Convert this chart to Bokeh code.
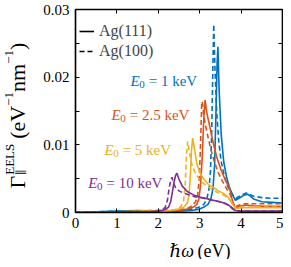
from math import pi
from bokeh.plotting import figure
from bokeh.layouts import row, column
from bokeh.models import (Range1d, LinearAxis, FixedTicker, Label, Legend,
                          LegendItem, CustomJSTickFormatter)
from bokeh.embed import file_html
from bokeh.resources import INLINE

# ---------------- data ----------------
# E0 = 1 keV
x_111_1 = [0, 0.5, 1.0, 1.5, 2.0, 2.5, 2.8, 3.0, 3.1, 3.2, 3.27, 3.32, 3.36, 3.39, 3.42, 3.44,
           3.47, 3.52, 3.58, 3.65, 3.72, 3.79, 3.86, 3.95, 4.05, 4.16, 4.3, 4.5, 4.75, 5.0]
y_111_1 = [0, 0.0001, 0.0002, 0.0003, 0.0002, 0.0002, 0.0003, 0.0005, 0.0008, 0.0012, 0.002,
           0.0035, 0.007, 0.014, 0.022, 0.0245, 0.018, 0.0115, 0.0075, 0.0052, 0.0037, 0.0027,
           0.0018, 0.0021, 0.0025, 0.0027, 0.002, 0.0016, 0.0015, 0.0014]
x_100_1 = [0, 1.0, 2.0, 2.5, 2.8, 3.0, 3.1, 3.17, 3.22, 3.26, 3.29, 3.32, 3.34, 3.37, 3.41, 3.46,
           3.52, 3.6, 3.68, 3.76, 3.82, 3.88, 3.98, 4.13, 4.3, 4.5, 4.75, 5.0]
y_100_1 = [0, 0.0002, 0.0003, 0.0003, 0.0005, 0.0008, 0.0012, 0.002, 0.0033, 0.006, 0.012, 0.022,
           0.0278, 0.021, 0.015, 0.0105, 0.0075, 0.0052, 0.0038, 0.0029, 0.0024, 0.0021, 0.0025,
           0.0029, 0.0024, 0.0022, 0.0021, 0.0021]
# E0 = 2.5 keV
x_111_25 = [0, 1, 2, 2.5, 2.7, 2.85, 2.93, 2.98, 3.02, 3.06, 3.1, 3.13, 3.17, 3.25, 3.33, 3.42,
            3.52, 3.62, 3.72, 3.8, 3.86, 3.95, 4.1, 4.3, 4.6, 5.0]
y_111_25 = [0, 0.0001, 0.0002, 0.0003, 0.0005, 0.0008, 0.0012, 0.002, 0.004, 0.008, 0.014, 0.0166,
            0.0148, 0.0125, 0.0102, 0.008, 0.0062, 0.0048, 0.0036, 0.0015, 0.0006, 0.0009, 0.0011,
            0.001, 0.0009, 0.0009]
x_100_25 = [0, 1, 2, 2.5, 2.7, 2.82, 2.9, 2.95, 2.99, 3.02, 3.05, 3.07, 3.1, 3.17, 3.25, 3.34,
            3.44, 3.55, 3.65, 3.74, 3.81, 3.86, 3.95, 4.1, 4.3, 4.6, 5.0]
y_100_25 = [0, 0.0001, 0.0002, 0.0004, 0.0006, 0.001, 0.0016, 0.0025, 0.005, 0.01, 0.0164, 0.016,
            0.0142, 0.012, 0.0098, 0.0078, 0.006, 0.0046, 0.0035, 0.0026, 0.0014, 0.0008, 0.0011,
            0.0013, 0.0013, 0.0013, 0.0013]
# E0 = 5 keV
x_111_5 = [0, 1, 2, 2.3, 2.5, 2.62, 2.7, 2.74, 2.77, 2.8, 2.83, 2.87, 2.93, 3.0, 3.1, 3.2, 3.33,
           3.45, 3.55, 3.65, 3.75, 3.82, 3.88, 4.0, 4.3, 4.6, 5.0]
y_111_5 = [0, 0.0001, 0.0002, 0.0003, 0.0005, 0.0008, 0.0014, 0.0025, 0.005, 0.009, 0.011, 0.0095,
           0.0072, 0.006, 0.0049, 0.0042, 0.0037, 0.0032, 0.0029, 0.0025, 0.0017, 0.001, 0.0006,
           0.0007, 0.0007, 0.0007, 0.0007]
x_100_5 = [0, 1, 2, 2.3, 2.45, 2.55, 2.61, 2.65, 2.68, 2.71, 2.75, 2.8, 2.88, 2.97, 3.07, 3.2,
           3.33, 3.45, 3.57, 3.68, 3.77, 3.83, 3.88, 4.0, 4.3, 4.6, 5.0]
y_100_5 = [0, 0.0001, 0.0002, 0.0003, 0.0005, 0.0009, 0.0017, 0.004, 0.0085, 0.0105, 0.009, 0.0073,
           0.006, 0.0051, 0.0044, 0.0038, 0.0033, 0.0029, 0.0026, 0.0022, 0.0016, 0.0009, 0.0006,
           0.0008, 0.0008, 0.0008, 0.0008]
# E0 = 10 keV
x_111_10 = [0, 1, 1.8, 2.0, 2.15, 2.25, 2.3, 2.34, 2.38, 2.42, 2.45, 2.5, 2.58, 2.7, 2.85, 3.0,
            3.2, 3.4, 3.6, 3.72, 3.8, 3.86, 4.0, 4.5, 5.0]
y_111_10 = [0, 0.0001, 0.0001, 0.0002, 0.0004, 0.0008, 0.0016, 0.003, 0.0045, 0.0055, 0.0058,
            0.0049, 0.0039, 0.0031, 0.0026, 0.0023, 0.002, 0.0017, 0.0014, 0.001, 0.0005, 0.0003,
            0.0002, 0.0002, 0.0002]
x_100_10 = [0, 1, 1.8, 2.0, 2.1, 2.17, 2.22, 2.26, 2.3, 2.33, 2.37, 2.42, 2.5, 2.6, 2.75, 2.9,
            3.1, 3.3, 3.5, 3.7, 3.8, 3.86, 4.0, 4.5, 5.0]
y_100_10 = [0, 0.0001, 0.0001, 0.0002, 0.0004, 0.0008, 0.0018, 0.0035, 0.0048, 0.0052, 0.0044,
            0.0036, 0.0032, 0.0029, 0.0026, 0.0023, 0.0021, 0.0018, 0.0016, 0.0011, 0.0006, 0.0003,
            0.0002, 0.0002, 0.0002]

energies = ["1", "2.5", "5", "10"]
colors = ["#0072BD", "#D95319", "#EDB120", "#7E2F8E"]
series_111 = [(x_111_1, y_111_1), (x_111_25, y_111_25), (x_111_5, y_111_5), (x_111_10, y_111_10)]
series_100 = [(x_100_1, y_100_1), (x_100_25, y_100_25), (x_100_5, y_100_5), (x_100_10, y_100_10)]
legend_labels = ["Ag(111)", "Ag(100)"]
x_ticks = [0, 1, 2, 3, 4, 5]
y_ticks = [0, 0.01, 0.02, 0.03]
y_minor = [0.005, 0.015, 0.025]
y_tick_labels = ["0", "0.01", "0.02", "0.03"]

FONT = "Liberation Serif, Times New Roman, DejaVu Serif, serif"
LW = 1.6
DASH = "5 3"

YLAB_W = 30
XLAB_H = 24
TOTAL_W, TOTAL_H = 283, 259

p = figure(width=TOTAL_W - YLAB_W, height=TOTAL_H - XLAB_H, output_backend="svg",
           toolbar_location=None, x_range=Range1d(0, 5), y_range=Range1d(0, 0.03),
           min_border_left=45, min_border_right=1, min_border_top=9, min_border_bottom=23)
p.grid.visible = False
p.outline_line_color = "black"
p.outline_line_width = 1.2
p.background_fill_color = "white"
p.border_fill_color = "white"

for (xs, ys), (xd, yd), c in zip(series_111, series_100, colors):
    p.line(xs, ys, color=c, line_width=LW)
    p.line(xd, yd, color=c, line_width=LW, line_dash=DASH)

# axes
xa = p.xaxis[0]
xa.ticker = FixedTicker(ticks=x_ticks)
ya = p.yaxis[0]
ya.ticker = FixedTicker(ticks=y_ticks, minor_ticks=y_minor)
ya.major_label_overrides = {t: s for t, s in zip(y_ticks, y_tick_labels)}
top = LinearAxis(ticker=FixedTicker(ticks=x_ticks),
                 formatter=CustomJSTickFormatter(code="return ''"))
right = LinearAxis(ticker=FixedTicker(ticks=y_ticks, minor_ticks=y_minor),
                   formatter=CustomJSTickFormatter(code="return ''"))
p.add_layout(top, "above")
p.add_layout(right, "right")
for ax in (xa, ya, top, right):
    ax.axis_line_color = "black"
    ax.axis_line_width = 1.5
    ax.major_tick_line_color = "black"
    ax.minor_tick_line_color = "black"
    ax.major_tick_out = 0
    ax.minor_tick_out = 0
    ax.major_tick_in = 4
    ax.minor_tick_in = 0
    ax.major_label_text_font = FONT
    ax.major_label_text_font_size = "15px"
    ax.major_label_text_color = "black"
for ax in (ya, right):
    ax.minor_tick_in = 4
for ax in (top, right):
    ax.major_label_standoff = 0
    ax.major_label_text_font_size = "1px"
xa.major_label_standoff = 5
ya.major_label_standoff = 6

# legend (black proxies, not drawn in the plot)
r_s = p.line(x_111_1, y_111_1, color="black", line_width=LW, visible=False)
r_d = p.line(x_100_1, y_100_1, color="black", line_width=LW, line_dash=DASH, visible=False)
legend = Legend(items=[LegendItem(label=legend_labels[0], renderers=[r_s]),
                       LegendItem(label=legend_labels[1], renderers=[r_d])],
                location=(4, 151), margin=0, padding=6, spacing=0,
                glyph_width=15, glyph_height=20, label_height=20, label_standoff=5,
                label_text_font=FONT, label_text_font_size="16px",
                border_line_color=None, background_fill_alpha=0,
                inactive_fill_alpha=0)
p.add_layout(legend)

# metrics (Times-like) to place composite text pieces
W = {'Γ': 0.578, 'E': 0.611, 'L': 0.611, 'S': 0.556, ' ': 0.25, '(': 0.333, ')': 0.333,
     'e': 0.444, 'V': 0.722, '−': 0.564, '1': 0.5, 'n': 0.5, 'm': 0.778, '=': 0.564,
     'k': 0.5, '0': 0.5, '2': 0.5, '.': 0.25, '5': 0.5, 'ℏ': 0.5, 'ω': 0.667}


def tw(s, size):
    return sum(W.get(ch, 0.5) for ch in s) * size


def lab(fig, x, y, text, size, color="black", style="normal", xo=0, yo=0, angle=0):
    fig.add_layout(Label(x=x, y=y, text=text, x_offset=xo, y_offset=yo, angle=angle,
                         text_font=FONT, text_font_size=f"{size}px", text_font_style=style,
                         text_color=color, text_baseline="alphabetic", text_align="left"))


# in-plot annotations  E_0 = ... keV
ann_pos = [(1.33, 0.0194), (0.87, 0.0144), (0.70, 0.0093), (0.31, 0.0043)]
for (ax_, ay_), en, c in zip(ann_pos, energies, colors):
    S = 15
    lab(p, ax_, ay_, "E", S, c, "italic")
    lab(p, ax_, ay_, "0", 11, c, xo=tw("E", S) - 0.5, yo=-3.5)
    lab(p, ax_, ay_, f"= {en} keV", S, c, xo=tw("E", S) + 9.0)


def text_panel(w, h):
    f = figure(width=w, height=h, output_backend="svg", toolbar_location=None,
               x_range=Range1d(0, w), y_range=Range1d(0, h),
               x_axis_location=None, y_axis_location=None,
               min_border_left=0, min_border_right=0, min_border_top=0, min_border_bottom=0)
    f.grid.visible = False
    f.outline_line_color = None
    f.background_fill_color = "white"
    f.border_fill_color = "white"
    return f


# x-axis label:  ħω (eV)
xl = text_panel(TOTAL_W - YLAB_W, XLAB_H)
XS = 18
lab(xl, 115, 9, "ℏω", XS, style="italic")
lab(xl, 115, 9, "(eV)", XS, xo=28)

# y-axis label:  Γ_∥^EELS (eV^-1 nm^-1), rotated
yl = text_panel(YLAB_W, TOTAL_H)
YS, SS = 22, 13
bx, by = 17, TOTAL_H - 188
a = pi / 2
pos = 0.0
lab(yl, bx, by, "Γ", YS, angle=a, yo=pos)
pos += tw("Γ", YS) + 1
lab(yl, bx, by, "EELS", SS, angle=a, yo=pos, xo=-8)
lab(yl, bx, by, "∥", 12, angle=a, yo=pos, xo=3)
pos += tw("EELS", SS) + 5
lab(yl, bx, by, "(eV", YS, angle=a, yo=pos)
pos += tw("(eV", YS)
lab(yl, bx, by, "−1", SS, angle=a, yo=pos, xo=-9)
pos += tw("−1", SS)
lab(yl, bx, by, "nm", YS, angle=a, yo=pos)
pos += tw("nm", YS)
lab(yl, bx, by, "−1", SS, angle=a, yo=pos, xo=-9)
pos += tw("−1", SS)
lab(yl, bx, by, ")", YS, angle=a, yo=pos)

layout = row(yl, column(p, xl))
open("out.html", "w").write(file_html(layout, INLINE))
